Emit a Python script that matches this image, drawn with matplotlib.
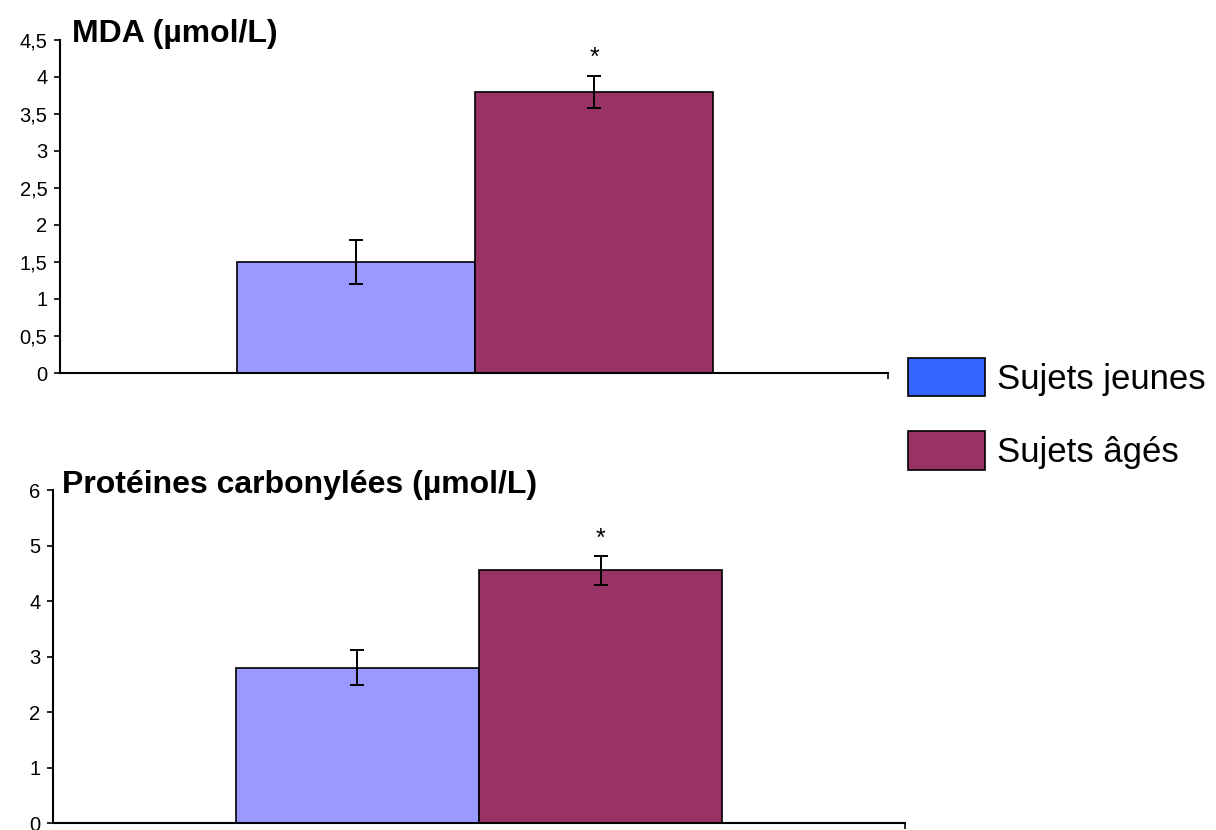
import matplotlib
matplotlib.use("Agg")
import matplotlib.pyplot as plt
from matplotlib.patches import Patch

plt.rcParams['font.family'] = ['Liberation Sans', 'DejaVu Sans']

# ---- data ----
groups = ["Sujets jeunes", "Sujets âgés"]
mda_values = [1.5, 3.8]
mda_errors = [0.3, 0.22]
mda_signif = ["", "*"]
prot_values = [2.8, 4.55]
prot_errors = [0.31, 0.26]
prot_signif = ["", "*"]
mda_ticks = [0, 0.5, 1, 1.5, 2, 2.5, 3, 3.5, 4, 4.5]
mda_ticklabels = ["0", "0,5", "1", "1,5", "2", "2,5", "3", "3,5", "4", "4,5"]
prot_ticks = [0, 1, 2, 3, 4, 5, 6]
prot_ticklabels = ["0", "1", "2", "3", "4", "5", "6"]
titles = ["MDA (µmol/L)", "Protéines carbonylées (µmol/L)"]

bar_colors = ["#9999FF", "#993366"]
legend_colors = ["#3366FF", "#993366"]

W, H = 1216, 830
fig = plt.figure(figsize=(W / 100, H / 100), dpi=100)

def px_axes(l, r, t, b):
    return fig.add_axes([l / W, 1 - b / H, (r - l) / W, (b - t) / H])

ax1 = px_axes(60, 888, 40, 373)
ax2 = px_axes(53, 905, 490, 823)

def draw(ax, values, errors, signif, ticks, ticklabels, ymax, xlim, title, title_x, title_y):
    x = list(range(len(values)))
    ax.bar(x, values, width=1.0, color=bar_colors, edgecolor="black",
           linewidth=1.2, zorder=2)
    ax.errorbar(x, values, yerr=errors, fmt="none", ecolor="black",
                elinewidth=1.4, capsize=5, capthick=1.4, zorder=3)
    for xi, v, e, s in zip(x, values, errors, signif):
        if s:
            ax.annotate(s, (xi, v + e), xytext=(0, 4), textcoords="offset points",
                        ha="center", va="bottom", fontsize=18)
    ax.set_ylim(0, ymax)
    ax.set_xlim(*xlim)
    ax.set_yticks(ticks)
    ax.set_yticklabels(ticklabels)
    ax.set_xticks([xlim[1]])
    ax.set_xticklabels([""])
    for sp in ["top", "right"]:
        ax.spines[sp].set_visible(False)
    for sp in ["left", "bottom"]:
        ax.spines[sp].set_linewidth(1.5)
        ax.spines[sp].set_color("black")
    ax.tick_params(axis="y", direction="out", length=4, width=1.2,
                   labelsize=14.5, pad=5, colors="black")
    ax.tick_params(axis="x", direction="out", length=4, width=1.2)
    ax.text(title_x, title_y, title, transform=ax.transAxes, ha="left",
            va="baseline", fontsize=23, fontweight="bold", clip_on=False)

draw(ax1, mda_values, mda_errors, mda_signif, mda_ticks, mda_ticklabels,
     4.5, (-1.244, 2.235), titles[0], 0.0145, 0.994)
draw(ax2, prot_values, prot_errors, prot_signif, prot_ticks, prot_ticklabels,
     6, (-1.253, 2.253), titles[1], 0.0106, 0.991)

handles = [Patch(facecolor=c, edgecolor="black", linewidth=1.2, label=g)
           for c, g in zip(legend_colors, groups)]
fig.legend(handles=handles, loc="upper left",
           bbox_to_anchor=(908 / W, 1 - 358 / H), frameon=False,
           fontsize=25, handlelength=2.22, handleheight=1.31,
           handletextpad=0.33, labelspacing=1.02, borderpad=0,
           borderaxespad=0)

fig.savefig("out.png", dpi=100, facecolor="white")
